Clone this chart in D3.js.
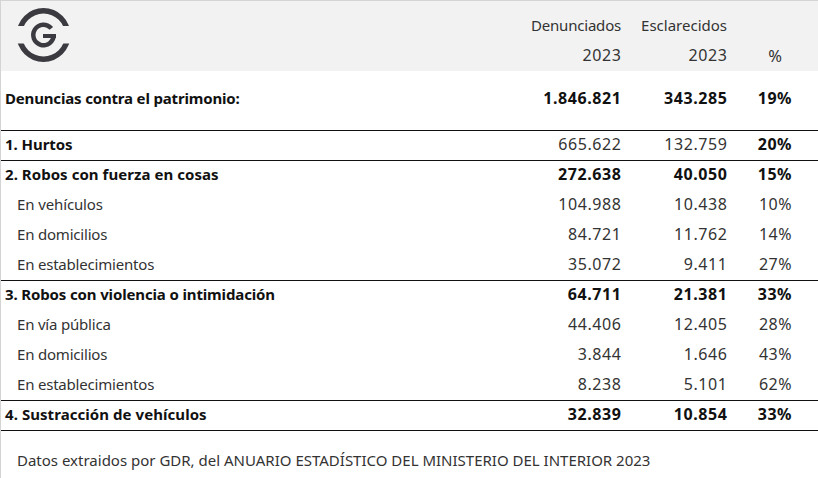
<!DOCTYPE html>
<html><head><meta charset="utf-8">
<script src="https://cdn.jsdelivr.net/npm/d3@7"></script>
<style>html,body{margin:0;padding:0;background:#fff}svg{display:block}text{font-family:"Noto Sans",sans-serif;font-size:15px;fill:#222}</style>
</head><body><div id="c"></div>
<script>
const labels=["Denuncias contra el patrimonio:","1. Hurtos","2. Robos con fuerza en cosas","En vehículos","En domicilios","En establecimientos","3. Robos con violencia o intimidación","En vía pública","En domicilios","En establecimientos","4. Sustracción de vehículos"];
const denunciados=["1.846.821","665.622","272.638","104.988","84.721","35.072","64.711","44.406","3.844","8.238","32.839"];
const esclarecidos=["343.285","132.759","40.050","10.438","11.762","9.411","21.381","12.405","1.646","5.101","10.854"];
const pct=["19%","20%","15%","10%","14%","27%","33%","28%","43%","62%","33%"];
const boldRows=[0,2,6,10];
const subRows=[3,4,5,7,8,9];
const labelSpacing=[-0.17,-0.05,0.05,-0.12,-0.2,-0.2,-0.14,-0.2,-0.2,-0.2,0.06];
const rowY=[98.5,144,174,204,234,264,294,324,354,384,414];
const ruleY=[130,160,280,400,430];
const note="Datos extraidos por GDR, del ANUARIO ESTADÍSTICO DEL MINISTERIO DEL INTERIOR 2023";
const W=818,H=478;
const svg=d3.select("#c").append("svg").attr("width",W).attr("height",H);
svg.append("rect").attr("x",0).attr("y",0).attr("width",W).attr("height",71).attr("fill","#f2f2f2");
svg.append("rect").attr("x",0).attr("y",0).attr("width",W).attr("height",1).attr("fill","#d4d4d4");
svg.append("rect").attr("x",0).attr("y",0).attr("width",1).attr("height",H).attr("fill","#d4d4d4");
// logo
const lg=svg.append("g").attr("transform","translate(43.5,35)");
const arc=d3.arc();
const deg=Math.PI/180;
const defs=svg.append("defs");
defs.append("clipPath").attr("id","t").append("rect").attr("x",-30).attr("y",-30).attr("width",60).attr("height",21);
defs.append("clipPath").attr("id","b").append("rect").attr("x",-30).attr("y",8.5).attr("width",60).attr("height",21);
lg.append("path").attr("clip-path","url(#t)").attr("fill","#3a3a40").attr("d",arc({innerRadius:21.5,outerRadius:27,startAngle:-90*deg,endAngle:90*deg}));
lg.append("path").attr("clip-path","url(#b)").attr("fill","#3a3a40").attr("d",arc({innerRadius:21.5,outerRadius:27,startAngle:90*deg,endAngle:270*deg}));
lg.append("path").attr("fill","#3a3a40").attr("d",arc({innerRadius:8,outerRadius:12.5,startAngle:90*deg,endAngle:410*deg}));
lg.append("rect").attr("x",-0.5).attr("y",-1).attr("width",13).attr("height",4).attr("fill","#3a3a40");
// header
const X1=621,X2=727,X3=792;
const hdr=[["Denunciados",X1,31,15,-0.2],["Esclarecidos",X2,31,15,0],["2023",X1+.6,61,16,.6],["2023",X2+.6,61,16,.6],["%",782,62,16.5,0]];
svg.selectAll("text.h").data(hdr).join("text").attr("class","h").attr("x",d=>d[1]).attr("y",d=>d[2]).attr("text-anchor","end").style("fill","#333").style("font-size",d=>d[3]+"px").style("letter-spacing",d=>d[4]+"px").text(d=>d[0]);
svg.selectAll("line.r").data(ruleY).join("line").attr("class","r").attr("x1",1).attr("x2",W).attr("y1",d=>d+.5).attr("y2",d=>d+.5).attr("stroke","#111");
labels.forEach((l,i)=>{
 const b=boldRows.includes(i)||i==1, y=rowY[i]+5.5, boldNum=boldRows.includes(i);
 svg.append("text").attr("x",subRows.includes(i)?17:5).attr("y",y).style("font-weight",b?700:400).style("letter-spacing",labelSpacing[i]+"px").style("fill",b?"#111":"#333").text(l);
 const num=(v,x)=>svg.append("text").attr("x",x+.6).attr("y",y).attr("text-anchor","end").style("font-size","16px").style("letter-spacing",".6px").style("font-weight",boldNum?700:400).style("fill",boldNum?"#111":"#333").text(v);
 num(denunciados[i],X1); num(esclarecidos[i],X2);
 svg.append("text").attr("x",X3).attr("y",y).attr("text-anchor","end").style("font-size","16px").style("letter-spacing",".5px").style("font-weight",b?700:400).style("fill",b?"#111":"#333").text(pct[i]);
});
svg.append("text").attr("x",17).attr("y",466).style("fill","#333").text(note);
</script></body></html>
